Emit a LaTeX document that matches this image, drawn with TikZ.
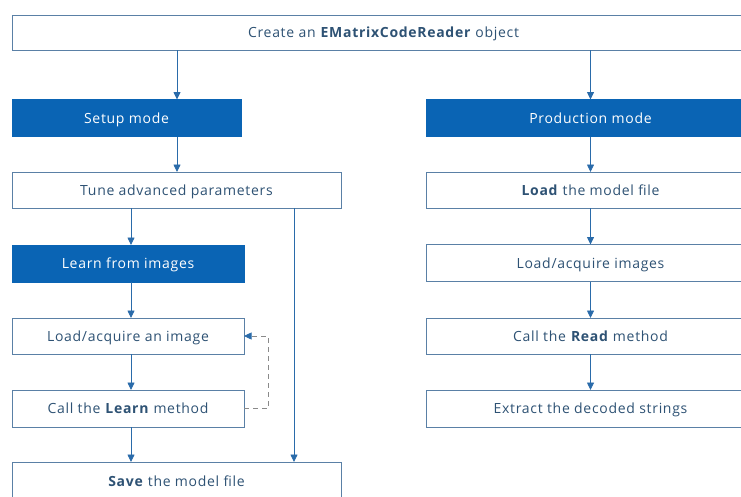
\documentclass[tikz,border=0pt]{standalone}
\usepackage{fontspec}
\setmainfont{Open Sans}[LetterSpace=5]
\usetikzlibrary{arrows.meta}
\definecolor{bluefill}{HTML}{0A64B4}
\definecolor{boxline}{HTML}{5A80A6}
\definecolor{txt}{HTML}{2E5274}
\definecolor{arr}{HTML}{2A6BAA}
\definecolor{dashc}{HTML}{8A8A8A}
\begin{document}
\begin{tikzpicture}[x=1pt,y=-1pt,
  every node/.style={font=\fontsize{14}{16}\selectfont, inner sep=0pt, outer sep=0pt, text height=10pt, text depth=0pt},
  wbox/.style={draw=boxline, line width=0.8pt, fill=white, text=txt, minimum height=#1},
  wbox/.default=36,
  bbox/.style={fill=bluefill, draw=bluefill, text=white, minimum height=37},
  flow/.style={draw=arr, line width=0.8pt, -{Triangle[length=7.5pt,width=7pt]}},
  backloop/.style={draw=dashc, line width=0.7pt, dash pattern=on 5pt off 4pt, -{Triangle[length=7.5pt,width=7pt,color=arr,sharp]}}
]
\useasboundingbox (0,0) rectangle (741,496);
\fill[white] (0,0) rectangle (741,496);
\node[wbox=35, minimum width=743] (create) at (383.5,32.5) {Create an \textbf{EMatrixCodeReader} object};
\node[bbox, minimum width=229] (setup) at (126.5,118) {Setup mode};
\node[bbox, minimum width=329] (prod) at (590.5,118) {Production mode};
\node[wbox, minimum width=329] (tune) at (176.5,190) {Tune advanced parameters};
\node[bbox, minimum width=232] (learnimg) at (128,263.5) {Learn from images};
\node[wbox, minimum width=232] (loadimg) at (128,336) {Load/acquire an image};
\node[wbox=37, minimum width=232] (calllearn) at (128,408.5) {Call the \textbf{Learn} method};
\node[wbox=38, minimum width=329, anchor=north] (save) at (176.5,462) {\textbf{Save} the model file};
\node[wbox, minimum width=329] (loadmodel) at (590.5,190) {\textbf{Load} the model file};
\node[wbox=37, minimum width=329] (loadimgs) at (590.5,263) {Load/acquire images};
\node[wbox, minimum width=329] (callread) at (590.5,336) {Call the \textbf{Read} method};
\node[wbox=37, minimum width=329] (extract) at (590.5,408.5) {Extract the decoded strings};

\draw[flow] (create.south -| setup.north) ++(50.5,0) coordinate (c1) -- (c1 |- setup.north);
\draw[flow] (create.south -| prod.north) -- (prod.north);
\draw[flow] (setup.south) ++(50.5,0) coordinate (s1) -- (s1 |- tune.north);
\draw[flow] (tune.south -| learnimg.north) ++(3,0) coordinate (t1) -- (t1 |- learnimg.north);
\draw[flow] (learnimg.south) ++(3,0) coordinate (l1) -- (l1 |- loadimg.north);
\draw[flow] (loadimg.south) ++(3,0) coordinate (l2) -- (l2 |- calllearn.north);
\draw[flow] (calllearn.south) ++(3,0) coordinate (l3) -- (l3 |- save.north);
\coordinate (t2) at (294,0);
\draw[flow] (t2 |- tune.south) -- (t2 |- save.north);
\coordinate (dx) at (268,0);
\draw[backloop] (calllearn.east) -- (dx |- calllearn.east) -- (dx |- loadimg.east) -- (loadimg.east);
\draw[flow] (prod.south) -- (loadmodel.north);
\draw[flow] (loadmodel.south) -- (loadimgs.north);
\draw[flow] (loadimgs.south) -- (callread.north);
\draw[flow] (callread.south) -- (extract.north);
\end{tikzpicture}
\end{document}
